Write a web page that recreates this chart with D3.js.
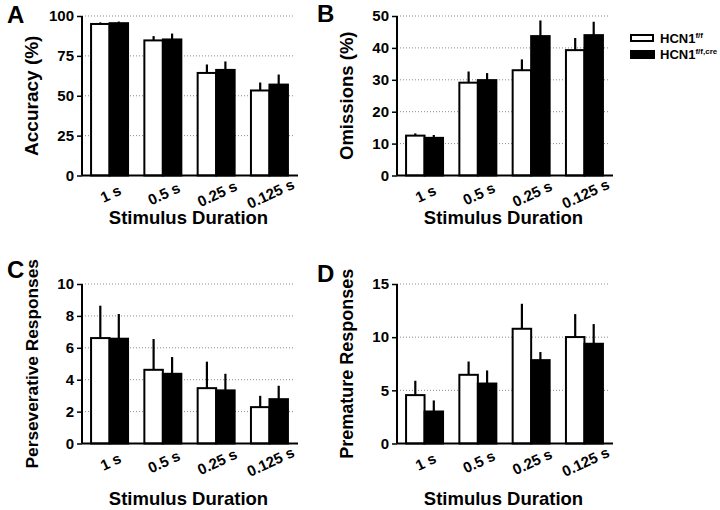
<!DOCTYPE html>
<html>
<head>
<meta charset="utf-8">
<script src="https://cdn.jsdelivr.net/npm/d3@7"></script>
<style>
  body { margin: 0; background: #fff; }
  text { font-family: "Liberation Sans", Arial, sans-serif; font-weight: bold; fill: #000; }
</style>
</head>
<body>
<svg id="chart"></svg>
<script>
var width = 720, height = 510;

// categories
var durations = ["1 s", "0.5 s", "0.25 s", "0.125 s"];
var groups = ["HCN1f/f", "HCN1f/f,cre"];

// A: accuracy (%)
var accFF = [95.0, 84.7, 64.3, 53.3];
var accFFErr = [1.0, 2.7, 5.3, 5.0];
var accCre = [95.5, 85.3, 66.2, 57.0];
var accCreErr = [1.0, 3.7, 5.3, 6.3];

// B: omissions (%)
var omFF = [12.5, 29.1, 33.0, 39.3];
var omFFErr = [0.7, 3.5, 3.4, 3.8];
var omCre = [11.8, 29.9, 43.7, 44.0];
var omCreErr = [0.9, 2.2, 4.9, 4.2];

// C: perseverative responses
var persFF = [6.61, 4.62, 3.47, 2.28];
var persFFErr = [2.03, 1.93, 1.66, 0.71];
var persCre = [6.57, 4.37, 3.33, 2.78];
var persCreErr = [1.55, 1.05, 1.04, 0.84];

// D: premature responses
var premFF = [4.55, 6.46, 10.79, 10.01];
var premFFErr = [1.35, 1.25, 2.35, 2.16];
var premCre = [3.01, 5.64, 7.84, 9.38];
var premCreErr = [1.04, 1.23, 0.76, 1.85];

// y ticks
var accTicks = [0, 25, 50, 75, 100];
var omTicks = [0, 10, 20, 30, 40, 50];
var persTicks = [0, 2, 4, 6, 8, 10];
var premTicks = [0, 5, 10, 15];

var svg = d3.select("#chart")
    .attr("width", width)
    .attr("height", height);

var panels = [
  {letter: "A", x: 82, y: 16, lx: -75, ly: 7, ylabel: "Accuracy (%)", labelSize: 19, ff: accFF, ffErr: accFFErr, cre: accCre, creErr: accCreErr, ticks: accTicks, titleDy: 48},
  {letter: "B", x: 397, y: 16, lx: -80, ly: 6, ylabel: "Omissions (%)", labelSize: 18.5, ff: omFF, ffErr: omFFErr, cre: omCre, creErr: omCreErr, ticks: omTicks, titleDy: 48},
  {letter: "C", x: 82, y: 284, lx: -75, ly: -6, ylabel: "Perseverative Responses", labelSize: 17.3, ff: persFF, ffErr: persFFErr, cre: persCre, creErr: persCreErr, ticks: persTicks, titleDy: 61},
  {letter: "D", x: 397, y: 284, lx: -80, ly: -2, ylabel: "Premature Responses", labelSize: 18, ff: premFF, ffErr: premFFErr, cre: premCre, creErr: premCreErr, ticks: premTicks, titleDy: 61}
];

var pw = 215, ph = 159.5;

panels.forEach(function(p) {
  var g = svg.append("g")
      .attr("transform", "translate(" + p.x + "," + p.y + ")");

  var x = d3.scaleBand()
      .domain(durations)
      .range([0, pw])
      .paddingInner(0.306)
      .paddingOuter(0.17);
  var x1 = d3.scaleBand()
      .domain(groups)
      .range([0, x.bandwidth()]);
  var y = d3.scaleLinear()
      .domain([0, d3.max(p.ticks)])
      .range([ph, 0]);

  // dotted grid lines
  g.selectAll(".grid")
      .data(p.ticks.filter(function(t) { return t > 0; }))
      .enter().append("line")
      .attr("x1", 0)
      .attr("x2", pw - 2)
      .attr("y1", function(d) { return y(d); })
      .attr("y2", function(d) { return y(d); })
      .attr("stroke", "#8a8a8a")
      .attr("stroke-width", 1)
      .attr("stroke-dasharray", "1,2");

  var rows = durations.map(function(d, i) {
    return [
      {dur: d, grp: groups[0], v: p.ff[i], e: p.ffErr[i]},
      {dur: d, grp: groups[1], v: p.cre[i], e: p.creErr[i]}
    ];
  });
  var flat = [].concat.apply([], rows);

  // error bars (upward only)
  g.selectAll(".err")
      .data(flat)
      .enter().append("line")
      .attr("x1", function(d) { return x(d.dur) + x1(d.grp) + x1.bandwidth() / 2; })
      .attr("x2", function(d) { return x(d.dur) + x1(d.grp) + x1.bandwidth() / 2; })
      .attr("y1", function(d) { return y(d.v); })
      .attr("y2", function(d) { return y(d.v + d.e); })
      .attr("stroke", "#000")
      .attr("stroke-width", 2.2);

  // bars
  g.selectAll(".bar")
      .data(flat)
      .enter().append("rect")
      .attr("x", function(d) { return x(d.dur) + x1(d.grp); })
      .attr("y", function(d) { return y(d.v); })
      .attr("width", x1.bandwidth())
      .attr("height", function(d) { return ph - y(d.v); })
      .attr("fill", function(d) { return d.grp === groups[0] ? "#fff" : "#000"; })
      .attr("stroke", "#000")
      .attr("stroke-width", 2);

  // y axis
  var yAxis = g.append("g")
      .call(d3.axisLeft(y).tickValues(p.ticks).tickSize(5).tickPadding(3));
  yAxis.select(".domain").attr("stroke-width", 2).attr("d", "M0," + ph + "V0");
  yAxis.selectAll(".tick line").attr("stroke-width", 1.5);
  yAxis.selectAll(".tick text").style("font-size", "15px");

  // x axis
  var xAxis = g.append("g")
      .attr("transform", "translate(0," + ph + ")")
      .call(d3.axisBottom(x).tickSize(0).tickPadding(0));
  xAxis.select(".domain").attr("stroke-width", 2).attr("d", "M0,0H" + (pw + 1));
  xAxis.selectAll(".tick text")
      .style("font-size", "15px")
      .attr("y", 0)
      .attr("dy", 0)
      .attr("text-anchor", "middle")
      .attr("dominant-baseline", "central")
      .attr("transform", "translate(1,18) rotate(-25)");

  // axis titles
  g.append("text")
      .attr("x", pw / 2 - 1)
      .attr("y", ph + p.titleDy)
      .attr("text-anchor", "middle")
      .style("font-size", "18.5px")
      .text("Stimulus Duration");

  g.append("text")
      .attr("transform", "translate(-44," + (ph / 2) + ") rotate(-90)")
      .attr("text-anchor", "middle")
      .style("font-size", p.labelSize + "px")
      .text(p.ylabel);

  // panel letter
  g.append("text")
      .attr("x", p.lx)
      .attr("y", p.ly)
      .style("font-size", "24px")
      .text(p.letter);
});

// legend
var legend = svg.append("g").attr("transform", "translate(630,34)");
legend.append("rect")
    .attr("x", 1).attr("y", 1).attr("width", 22).attr("height", 6)
    .attr("fill", "#fff").attr("stroke", "#000").attr("stroke-width", 2);
legend.append("rect")
    .attr("x", 0).attr("y", 16).attr("width", 25).attr("height", 9)
    .attr("fill", "#000");
var lt1 = legend.append("text").attr("x", 30).attr("y", 8.5).style("font-size", "13px");
lt1.append("tspan").text("HCN1");
lt1.append("tspan").attr("dy", -5).style("font-size", "8px").text("f/f");
var lt2 = legend.append("text").attr("x", 30).attr("y", 24.5).style("font-size", "13px");
lt2.append("tspan").text("HCN1");
lt2.append("tspan").attr("dy", -5).style("font-size", "8px").text("f/f,cre");
</script>
</body>
</html>
